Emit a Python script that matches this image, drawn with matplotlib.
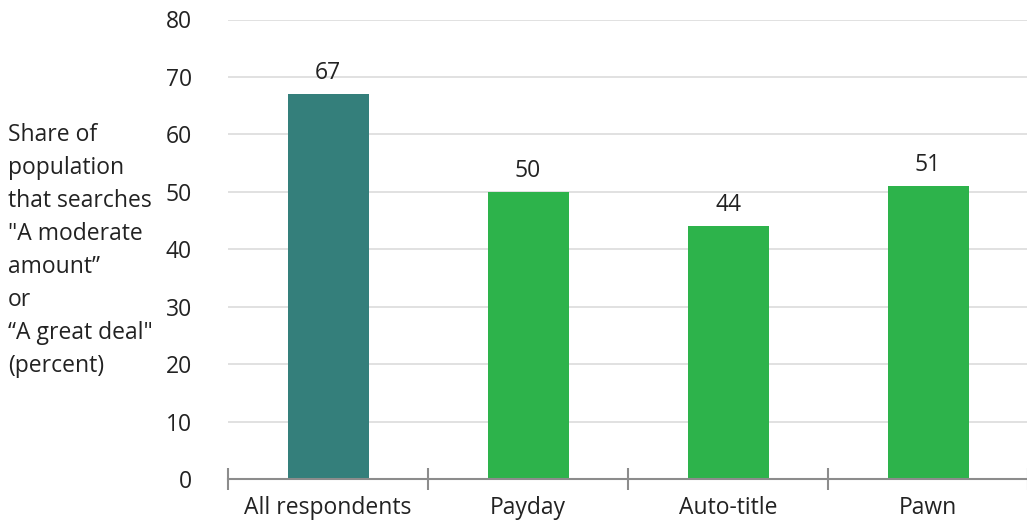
import matplotlib.pyplot as plt
import numpy as np

categories = ['All respondents', 'Payday', 'Auto-title', 'Pawn']
values = [67, 50, 44, 51]
value_labels = ['67', '50', '44', '51']
bar_colors = ['#347F7B', '#2DB34B', '#2DB34B', '#2DB34B']
ylabel_lines = ['Share of', 'population', 'that searches', '"A moderate',
                'amount\u201d', 'or', '\u201cA great deal"', '(percent)']

plt.rcParams['font.family'] = ['Open Sans', 'DejaVu Sans']
fs = 16.5

fig = plt.figure(figsize=(10.27, 5.29), dpi=100)
ax = fig.add_axes([228 / 1027, 50 / 529, 800 / 1027, 459.5 / 529])

x = np.arange(len(categories))
ax.bar(x, values, width=0.405, color=bar_colors, zorder=3)
for xi, v, lab in zip(x, values, value_labels):
    ax.text(xi, v + 1.6, lab, ha='center', va='bottom', fontsize=fs, color='#222222')

ax.set_xlim(-0.5, 3.5)
ax.set_ylim(0, 80)
ax.set_yticks(range(0, 81, 10))
ax.yaxis.grid(True, color='#DCDCDC', linewidth=1.2, zorder=0)
ax.tick_params(axis='y', length=0, pad=26, labelsize=fs, labelcolor='#222222')

# boundary ticks crossing the axis, short ticks at bar centres
ax.set_xticks(np.arange(-0.5, 4.0, 1.0))
ax.set_xticklabels([])
ax.tick_params(axis='x', which='major', direction='inout', length=16, width=1.5, color='#8C8C8C')
ax.set_xticks(x, minor=True)
ax.set_xticklabels(categories, minor=True)
ax.tick_params(axis='x', which='minor', direction='in', length=6, width=1.5, color='#8C8C8C',
               labelsize=fs, labelcolor='#222222', pad=12)

for side in ['top', 'right', 'left']:
    ax.spines[side].set_visible(False)
ax.spines['bottom'].set_color('#8C8C8C')
ax.spines['bottom'].set_linewidth(1.5)
ax.spines['bottom'].set_zorder(4)

fig.text(8 / 1027, 1 - 250 / 529, '\n'.join(ylabel_lines), ha='left', va='center',
         fontsize=fs, color='#222222', linespacing=1.5)

fig.savefig('out.png', dpi=100)
